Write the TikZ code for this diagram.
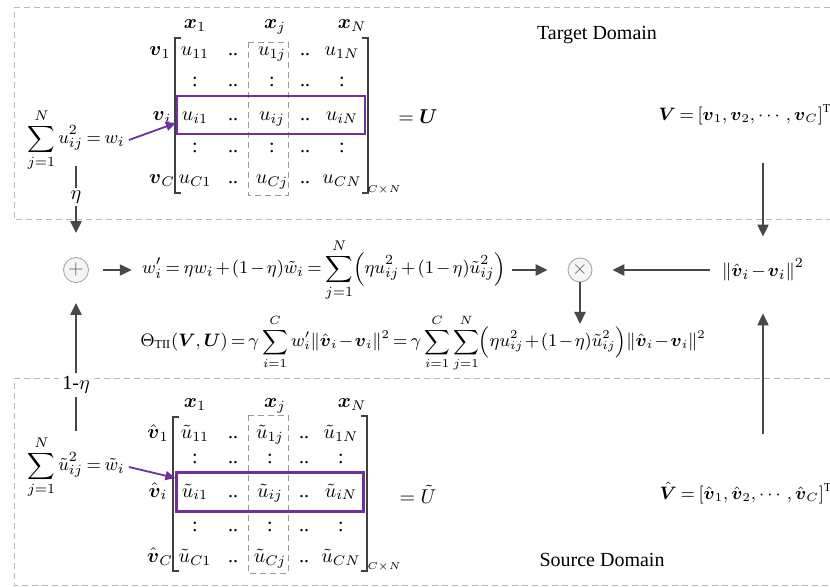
\documentclass[tikz,border=0pt]{standalone}
\usepackage{amsmath,amssymb}
\usepackage{fontspec}
\setmainfont{Liberation Serif}
\usepackage{xcolor}
\usepackage{tikz}
\usetikzlibrary{arrows, arrows.meta, positioning}
\definecolor{rowpurple}{RGB}{112,48,160}
\definecolor{flowgray}{RGB}{72,72,72}
\newcommand{\tightmath}{\medmuskip=2mu\thickmuskip=3.5mu\relax}
\newcommand{\tightermath}{\medmuskip=1.5mu\thickmuskip=3mu\relax}
\tikzstyle{arrow} = [line width=1.1pt,draw=flowgray,->,>={Triangle[length=6pt,width=5.5pt]}]
\tikzstyle{link} = [line width=1.1pt,draw=flowgray]
\tikzstyle{pointer} = [line width=0.9pt,draw=rowpurple,->,>={Triangle[length=5pt,width=4.5pt]}]
\tikzstyle{domainframe} = [draw=gray!55,dash pattern=on 3pt off 2pt,line width=0.5pt]
\tikzstyle{cell} = [anchor=base,inner sep=0pt]
\tikzstyle{rowbox} = [draw=rowpurple,line width=1.1pt,inner sep=0pt]
\tikzstyle{colbox} = [draw=gray!80,densely dashed,line width=0.4pt]
\tikzstyle{bracket} = [draw=black!75,line width=0.6pt]
\tikzstyle{opnode} = [circle,draw=gray!75,fill=gray!8,inner sep=0pt,text=gray!80!black]
\tikzstyle{formula} = [inner sep=2pt,font=\fontsize{9.3}{11}\selectfont\tightmath]

\begin{document}
\begin{tikzpicture}[x=0.5pt,y=-0.5pt]
    \useasboundingbox (0,0) rectangle (830,587);

    % Domain frames (dashed)
    \draw[domainframe] (830,8) -- (14,8) -- (14,220) -- (830,220);
    \draw[domainframe] (830,379) -- (14,379) -- (14,585) -- (830,585);
    \node (tgtlabel) at (597,35) {Target Domain};
    \node (srclabel) at (602,560) {Source Domain};

    % Target matrix: heads and row labels
    \node[cell] (tx1) at (195,29) {$\boldsymbol{x}_1$};
    \node[cell] (txj) at (275,29) {$\boldsymbol{x}_j$};
    \node[cell] (txN) at (352,29) {$\boldsymbol{x}_N$};
    \node[cell] (tv1) at (160,56) {$\boldsymbol{v}_1$};
    \node[cell] (tvi) at (162,121) {$\boldsymbol{v}_i$};
    \node[cell] (tvC) at (162,184) {$\boldsymbol{v}_C$};

    % Target matrix: entries
    \node[cell] (t11) at (195,56) {$u_{11}$}; \node[cell] (t12) at (233,56) {..};
    \node[cell] (t13) at (272,56) {$u_{1j}$}; \node[cell] (t14) at (305,56) {..};
    \node[cell] (t15) at (342,56) {$u_{1N}$};
    \node[cell] (t21) at (195,87) {:}; \node[cell] (t22) at (233,87) {..};
    \node[cell] (t23) at (272,87) {:}; \node[cell] (t24) at (305,87) {..};
    \node[cell] (t25) at (342,87) {:};
    \node[cell] (t31) at (195,121) {$u_{i1}$}; \node[cell] (t32) at (233,121) {..};
    \node[cell] (t33) at (272,121) {$u_{ij}$}; \node[cell] (t34) at (305,121) {..};
    \node[cell] (t35) at (342,121) {$u_{iN}$};
    \node[cell] (t41) at (195,153) {:}; \node[cell] (t42) at (233,153) {..};
    \node[cell] (t43) at (272,153) {:}; \node[cell] (t44) at (305,153) {..};
    \node[cell] (t45) at (342,153) {:};
    \node[cell] (t51) at (195,184) {$u_{C1}$}; \node[cell] (t52) at (233,184) {..};
    \node[cell] (t53) at (272,184) {$u_{Cj}$}; \node[cell] (t54) at (305,184) {..};
    \node[cell] (t55) at (342,184) {$u_{CN}$};

    % Target matrix: brackets, column and row boxes
    \draw[bracket] (181,38) -- (175,38) -- (175,193) -- (181,193);
    \draw[bracket] (362,38) -- (368,38) -- (368,193) -- (362,193);
    \node[font=\fontsize{5.5}{6}\selectfont,inner sep=0pt] (tsize) at (384,190) {$C{\times}N$};
    \draw[colbox] (248,42) rectangle (288,195);
    \node[rowbox,minimum width=94pt,minimum height=19pt] (rowT) at (271,115) {};
    \node (eqU) at (418,117) {$=\boldsymbol{U}$};
    \node[formula,font=\fontsize{9}{11}\selectfont\tightmath] (Vtop) at (745,115) {$\boldsymbol{V}=[\boldsymbol{v}_1,\boldsymbol{v}_2,\cdots,\boldsymbol{v}_C]^{\mathrm{T}}$};

    % Source matrix: heads and row labels
    \node[cell] (sx1) at (195,408) {$\boldsymbol{x}_1$};
    \node[cell] (sxj) at (275,408) {$\boldsymbol{x}_j$};
    \node[cell] (sxN) at (352,408) {$\boldsymbol{x}_N$};
    \node[cell] (sv1) at (158,439) {$\hat{\boldsymbol{v}}_1$};
    \node[cell] (svi) at (158,497) {$\hat{\boldsymbol{v}}_i$};
    \node[cell] (svC) at (160,562) {$\hat{\boldsymbol{v}}_C$};

    % Source matrix: entries
    \node[cell] (s11) at (195,439) {$\tilde{u}_{11}$}; \node[cell] (s12) at (233,439) {..};
    \node[cell] (s13) at (270,439) {$\tilde{u}_{1j}$}; \node[cell] (s14) at (304,439) {..};
    \node[cell] (s15) at (341,439) {$\tilde{u}_{1N}$};
    \node[cell] (s21) at (195,464) {:}; \node[cell] (s22) at (233,464) {..};
    \node[cell] (s23) at (270,464) {:}; \node[cell] (s24) at (304,464) {..};
    \node[cell] (s25) at (341,464) {:};
    \node[cell] (s31) at (195,497) {$\tilde{u}_{i1}$}; \node[cell] (s32) at (233,497) {..};
    \node[cell] (s33) at (270,497) {$\tilde{u}_{ij}$}; \node[cell] (s34) at (304,497) {..};
    \node[cell] (s35) at (341,497) {$\tilde{u}_{iN}$};
    \node[cell] (s41) at (195,531) {:}; \node[cell] (s42) at (233,531) {..};
    \node[cell] (s43) at (270,531) {:}; \node[cell] (s44) at (304,531) {..};
    \node[cell] (s45) at (341,531) {:};
    \node[cell] (s51) at (195,562) {$\tilde{u}_{C1}$}; \node[cell] (s52) at (233,562) {..};
    \node[cell] (s53) at (270,562) {$\tilde{u}_{Cj}$}; \node[cell] (s54) at (304,562) {..};
    \node[cell] (s55) at (341,562) {$\tilde{u}_{CN}$};

    % Source matrix: brackets, column and row boxes
    \draw[bracket] (179,417) -- (173,417) -- (173,571) -- (179,571);
    \draw[bracket] (361,416) -- (367,416) -- (367,571) -- (361,571);
    \node[font=\fontsize{5.5}{6}\selectfont,inner sep=0pt] (ssize) at (384,567) {$C{\times}N$};
    \draw[colbox] (248,415) rectangle (288,573);
    \node[rowbox,minimum width=93.5pt,minimum height=19.5pt] (rowS) at (270,492) {};
    \node (eqUs) at (418,494) {$=\tilde{U}$};
    \node[formula,font=\fontsize{9}{11}\selectfont\tightmath] (Vbot) at (746,493) {$\hat{\boldsymbol{V}}=[\hat{\boldsymbol{v}}_1,\hat{\boldsymbol{v}}_2,\cdots,\hat{\boldsymbol{v}}_C]^{\mathrm{T}}$};

    % Row weights
    \node[formula] (sumT) at (76,140) {$\displaystyle\sum_{j=1}^{N}u_{ij}^2=w_i$};
    \node[inner sep=1pt] (etaT) at (76,197) {$\eta$};
    \node[formula] (sumS) at (76,467) {$\displaystyle\sum_{j=1}^{N}\tilde{u}_{ij}^2=\tilde{w}_i$};
    \node[fill=white,inner sep=1.5pt] (etaS) at (76,385) {1-$\eta$};
    \draw[pointer] (sumT.east) -- ([yshift=-4pt]rowT.west);
    \draw[pointer] (sumS.east) -- ([yshift=7pt]rowS.west);

    % Fusion and objective
    \node[opnode,minimum size=12.5pt] (plus) at (76,270) {$+$};
    \node[opnode,minimum size=12pt] (times) at (580,270) {$\times$};
    \node[formula] (eqW) at (324,270) {$w'_i=\eta w_i+(1-\eta)\tilde{w}_i=\displaystyle\sum_{j=1}^{N}\Bigl(\eta u_{ij}^2+(1-\eta)\tilde{u}_{ij}^2\Bigr)$};
    \node[formula] (norm) at (763,270) {$\left\|\hat{\boldsymbol{v}}_i-\boldsymbol{v}_i\right\|^2$};
    \node[formula,font=\fontsize{8.7}{11}\selectfont\tightermath] (eqTheta) at (423,343) {$\Theta_{\mathrm{TII}}(\boldsymbol{V},\boldsymbol{U})=\gamma\displaystyle\sum_{i=1}^{C}w'_i\|\hat{\boldsymbol{v}}_i-\boldsymbol{v}_i\|^2=\gamma\sum_{i=1}^{C}\sum_{j=1}^{N}\Bigl(\eta u_{ij}^2+(1-\eta)\tilde{u}_{ij}^2\Bigr)\|\hat{\boldsymbol{v}}_i-\boldsymbol{v}_i\|^2$};

    % Connectors
    \draw[link] ([yshift=5pt]sumT.south) -- (etaT);
    \draw[arrow,shorten >=12pt] (etaT) -- (plus);
    \draw[link] (etaS) -- (sumS);
    \draw[arrow,shorten >=10pt] (etaS) -- (plus);
    \draw[arrow,shorten <=7pt,shorten >=3pt] (plus) -- (eqW);
    \draw[arrow,shorten <=1pt,shorten >=10pt] (eqW) -- (times);
    \draw[arrow,shorten <=4pt,shorten >=10pt] (norm) -- (times);
    \draw[arrow,shorten >=9.5pt] (times) -- (times |- eqTheta.center);
    \draw[arrow,shorten <=17pt,shorten >=9pt] (norm |- Vtop.south) -- (norm);
    \draw[arrow,shorten <=22pt,shorten >=14pt] (norm |- Vbot.north) -- (norm);
\end{tikzpicture}
\end{document}
